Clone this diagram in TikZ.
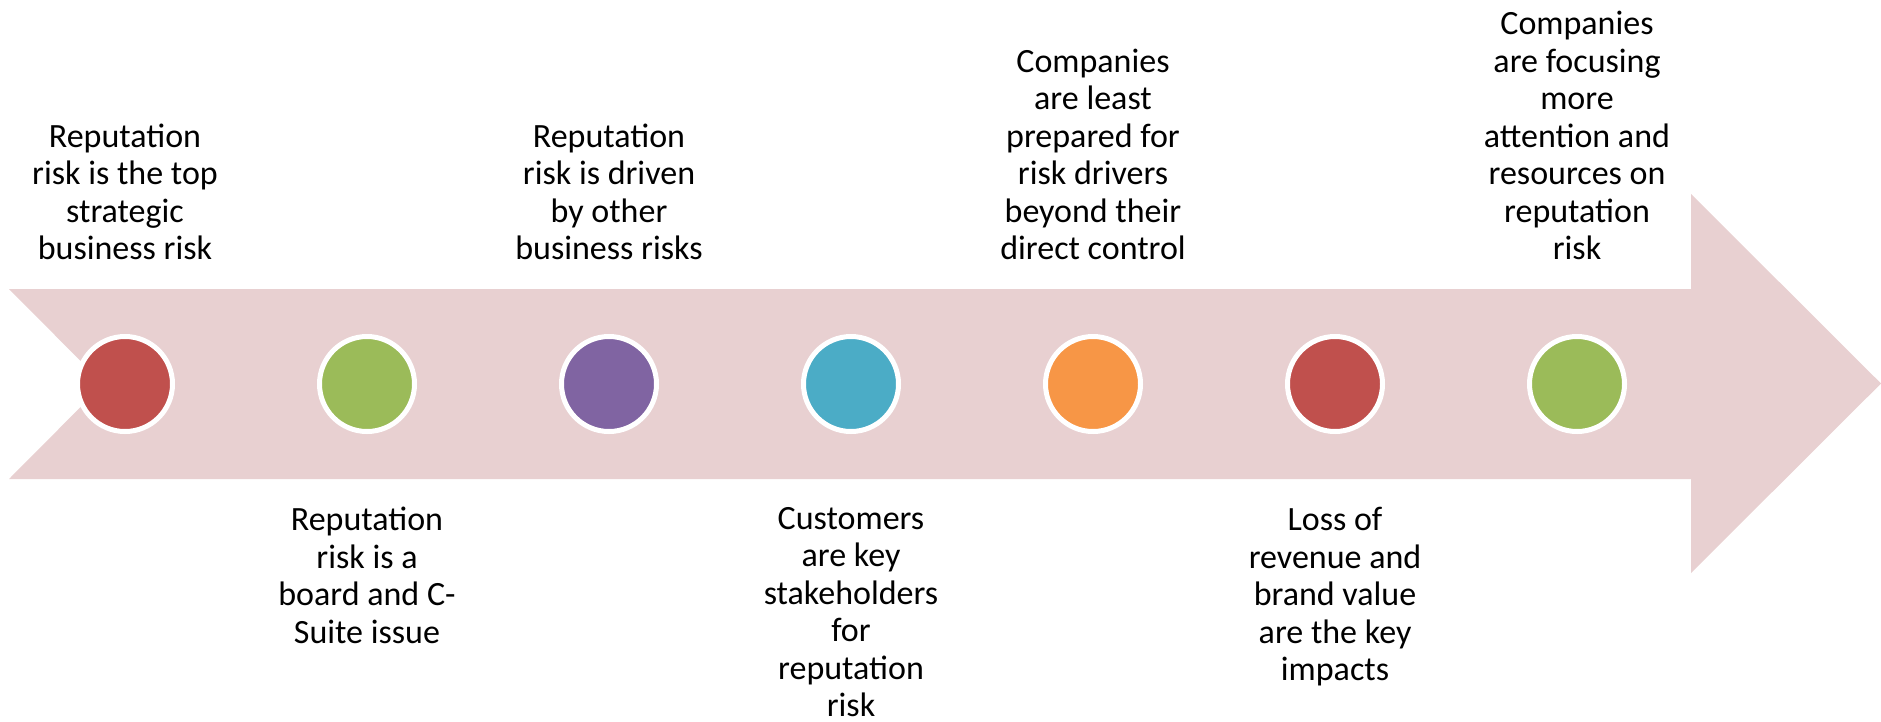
\documentclass[tikz,border=0pt]{standalone}
\usepackage{fontspec}
\setmainfont{Carlito}
\definecolor{band}{RGB}{232,208,209}
\definecolor{cred}{HTML}{C0504D}
\definecolor{cgreen}{HTML}{9BBB59}
\definecolor{cpurple}{HTML}{8064A2}
\definecolor{cteal}{HTML}{4BACC6}
\definecolor{corange}{HTML}{F79646}
\tikzset{
  dot/.style={circle, minimum size=95pt, inner sep=0pt, line width=5pt, draw=white, fill=#1},
  toplabel/.style={anchor=south, align=center, inner sep=0pt, font=\fontsize{34}{37.5}\selectfont},
  botlabel/.style={anchor=north, align=center, inner sep=0pt, font=\fontsize{34}{37.5}\selectfont}
}
\begin{document}
\begin{tikzpicture}[x=1pt, y=-1pt]
\useasboundingbox (0,0) rectangle (1881,721);
% big arrow
\fill[band] (9,289) -- (1691,289) -- (1691,194) -- (1881,383.5) -- (1691,573)
  -- (1691,479) -- (9,479) -- (103.5,384) -- cycle;
% dots
\node[dot=cred]    (c1) at (125,384) {};
\node[dot=cgreen]  (c2) at (367,384) {};
\node[dot=cpurple] (c3) at (609,384) {};
\node[dot=cteal]   (c4) at (851,384) {};
\node[dot=corange] (c5) at (1093,384) {};
\node[dot=cred]    (c6) at (1335,384) {};
\node[dot=cgreen]  (c7) at (1577,384) {};
% labels
\node[toplabel] (t1) at (125,260) {Reputation\\risk is the top\\strategic\\business risk};
\node[botlabel] (t2) at (367,507) {Reputation\\risk is a\\board and C-\\Suite issue};
\node[toplabel] (t3) at (609,260) {Reputation\\risk is driven\\by other\\business risks};
\node[botlabel] (t4) at (851,507) {Customers\\are key\\stakeholders\\for\\reputation\\risk};
\node[toplabel] (t5) at (1093,260) {Companies\\are least\\prepared for\\risk drivers\\beyond their\\direct control};
\node[botlabel] (t6) at (1335,507) {Loss of\\revenue and\\brand value\\are the key\\impacts};
\node[toplabel] (t7) at (1577,260) {Companies\\are focusing\\more\\attention and\\resources on\\reputation\\risk};
\end{tikzpicture}
\end{document}
